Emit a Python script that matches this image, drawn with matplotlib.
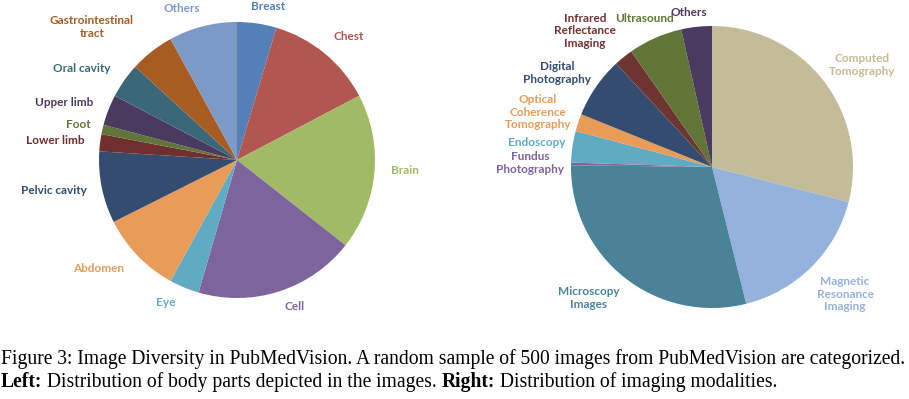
import matplotlib
matplotlib.use('Agg')
import matplotlib.pyplot as plt

# DATA #################################################################################################################

body_parts = ['Breast', 'Chest', 'Brain', 'Cell', 'Eye', 'Abdomen', 'Pelvic cavity', 'Lower limb', 'Foot',
              'Upper limb', 'Oral cavity', 'Gastrointestinal\ntract', 'Others']
body_share = [4.6, 12.7, 18.3, 18.9, 3.5, 9.6, 8.4, 2.0, 1.1, 3.6, 4.1, 5.2, 8.0]

modalities = ['Computed\nTomography', 'Magnetic\nResonance\nImaging', 'Microscopy\nImages', 'Fundus\nPhotography',
              'Endoscopy', 'Optical\nCoherence\nTomography', 'Digital\nPhotography', 'Infrared\nReflectance\nImaging',
              'Ultrasound', 'Others']
modality_share = [29.0, 17.1, 29.1, 0.3, 3.6, 2.0, 7.0, 2.2, 6.2, 3.5]

# STYLE ################################################################################################################

body_colors = ['#557FB7', '#B25651', '#A0BA66', '#7E649D', '#60AAC4', '#E89C58', '#344C70', '#6E2F2E', '#617538',
               '#4A3A60', '#3B6878', '#A85C22', '#7B9AC6']
modality_colors = ['#C3BC98', '#95B2DC', '#4A8398', '#7E649D', '#60AAC4', '#E89C58', '#344C70', '#6E3432',
                   '#617538', '#4A3A60']

# label anchor points in figure pixels (x, y from top)
body_label_pos = [(268, 7), (349, 37), (405, 170), (295, 307), (166, 303), (99, 269), (54, 190), (55, 140),
                  (78, 125), (64, 102), (82, 69), (92, 27), (182, 9)]
modality_label_pos = [(862, 65), (845, 294), (589, 298), (530, 163), (537, 143), (538, 112), (557, 73),
                      (585, 31), (644, 18), (689, 13)]

W, H = 909, 399

########################################################################################################################

fig = plt.figure(figsize=(W / 100, H / 100), dpi=100)
ax = fig.add_axes([0, 0, 1, 1])

ax.pie(body_share, colors=body_colors, startangle=90, counterclock=False, center=(237, H - 160), radius=138,
       wedgeprops=dict(linewidth=0))
ax.pie(modality_share, colors=modality_colors, startangle=90, counterclock=False, center=(712, H - 167),
       radius=141, wedgeprops=dict(linewidth=0))

ax.set_xlim(0, W)
ax.set_ylim(0, H)
ax.set_aspect('equal')
ax.axis('off')

label_font = dict(family=['Lato', 'DejaVu Sans'], fontsize=8.5, fontweight='bold', ha='center', va='center',
                  linespacing=1.15)
for name, col, (x, y) in zip(body_parts, body_colors, body_label_pos):
    ax.text(x, H - y, name, color=col, **label_font)
for name, col, (x, y) in zip(modalities, modality_colors, modality_label_pos):
    ax.text(x, H - y, name, color=col, **label_font)

cap_font = dict(family='Liberation Serif', fontsize=14.1, color='black', va='baseline')
fig.text(1 / W, 1 - 364 / H, 'Figure 3: Image Diversity in PubMedVision. A random sample of 500 images from '
         'PubMedVision are categorized.', **cap_font)

renderer = fig.canvas.get_renderer()
x = 1.0
for piece, weight in [('Left:', 'bold'), (' Distribution of body parts depicted in the images. ', 'normal'),
                      ('Right:', 'bold'), (' Distribution of imaging modalities.', 'normal')]:
    t = fig.text(x / W, 1 - 387 / H, piece, fontweight=weight, **cap_font)
    x += t.get_window_extent(renderer).width

fig.savefig('out.png', dpi=100)
